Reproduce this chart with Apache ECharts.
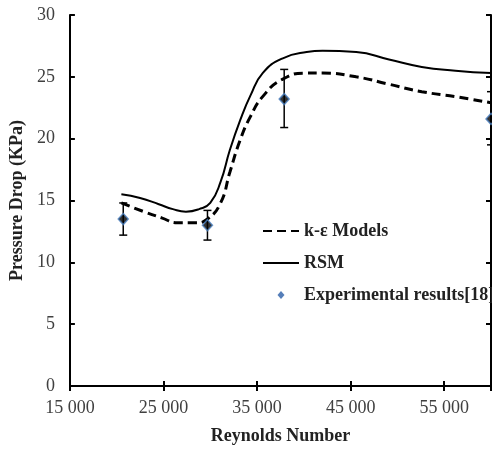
<!DOCTYPE html>
<html>
<head>
<meta charset="utf-8">
<script src="https://cdn.jsdelivr.net/npm/echarts@6/dist/echarts.min.js"></script>
<style>html,body{margin:0;padding:0;background:#fff}#c{width:492px;height:450px}</style>
</head>
<body>
<div id="c"></div>
<script>
// Reynolds number samples for model curves
const keX   = [20500, 22900, 24800, 26500, 28400, 29700, 31100, 32100, 33200, 34300, 35600, 37700, 40300, 42000, 45600, 49100, 52600, 56200, 60000];
const keY   = [14.8, 14.1, 13.6, 13.2, 13.2, 13.5, 14.8, 17.3, 19.9, 21.8, 23.4, 24.8, 25.3, 25.3, 25.0, 24.4, 23.8, 23.4, 22.9];
const rsmX  = [20500, 22500, 24500, 26000, 27400, 28800, 30000, 31100, 32100, 33200, 34300, 35600, 37750, 40300, 42000, 45600, 49100, 52600, 56200, 60000];
const rsmY  = [15.5, 15.2, 14.7, 14.3, 14.1, 14.3, 14.8, 16.5, 19.1, 21.5, 23.5, 25.3, 26.5, 27.0, 27.1, 27.0, 26.4, 25.8, 25.5, 25.3];
// experimental
const expX    = [20700, 29700, 37900, 60000];
const expY    = [13.5, 13.0, 23.2, 21.6];
const expLow  = [12.2, 11.8, 20.9, 19.5];
const expHigh = [14.8, 14.2, 25.6, 23.8];
const xTicks = {min: 15000, max: 60000, interval: 10000};
const yTicks = {min: 0, max: 30, interval: 5};

const zip = (a, b) => a.map((v, i) => [v, b[i]]);
const font = 'Liberation Serif';
const chart = echarts.init(document.getElementById('c'));
chart.setOption({
  animation: false,
  textStyle: {fontFamily: font},
  grid: {left: 68, right: 1, top: 15, bottom: 64},
  legend: {
    orient: 'vertical', left: 257, top: 217, itemGap: 14,
    itemWidth: 36, itemHeight: 14,
    textStyle: {fontFamily: font, fontWeight: 'bold', fontSize: 18, color: '#222'},
    data: [
      {name: 'k-ε Models', itemStyle: {opacity: 0}},
      {name: 'RSM', itemStyle: {opacity: 0}},
      {name: 'Experimental results[18]',
       icon: 'path://M0,0M36,14M18,3L21.5,7L18,11L14.5,7Z',
       itemStyle: {color: '#2a5ea8', borderWidth: 0}}
    ]
  },
  xAxis: [{
    type: 'value', min: xTicks.min, max: xTicks.max, interval: xTicks.interval,
    name: 'Reynolds Number', nameLocation: 'middle', nameGap: 41,
    nameTextStyle: {fontFamily: font, fontWeight: 'bold', fontSize: 18, color: '#222'},
    axisLine: {lineStyle: {color: '#000', width: 2}},
    axisTick: {inside: true, length: 5, lineStyle: {color: '#000', width: 2}},
    axisLabel: {color: '#404040', fontSize: 18, margin: 13, showMaxLabel: false,
      formatter: v => String(v).replace(/\B(?=(\d{3})+(?!\d))/g, ' ')},
    splitLine: {show: false}
  }, {
    type: 'value', position: 'top', min: xTicks.min, max: xTicks.max, interval: xTicks.interval,
    axisLine: {lineStyle: {color: '#000', width: 2}},
    axisTick: {inside: true, length: 5, lineStyle: {color: '#000', width: 2}},
    axisLabel: {show: false}, splitLine: {show: false}
  }],
  yAxis: [{
    type: 'value', min: yTicks.min, max: yTicks.max, interval: yTicks.interval,
    name: 'Pressure Drop (KPa)', nameLocation: 'middle', nameGap: 37,
    nameTextStyle: {fontFamily: font, fontWeight: 'bold', fontSize: 18, color: '#222'},
    axisLine: {lineStyle: {color: '#000', width: 2}},
    axisTick: {inside: true, length: 5, lineStyle: {color: '#000', width: 2}},
    axisLabel: {color: '#404040', fontSize: 18, margin: 15},
    splitLine: {show: false}
  }, {
    type: 'value', position: 'right', min: yTicks.min, max: yTicks.max, interval: yTicks.interval,
    axisLine: {lineStyle: {color: '#000', width: 2}},
    axisTick: {inside: true, length: 5, lineStyle: {color: '#000', width: 2}},
    axisLabel: {show: false}, splitLine: {show: false}
  }],
  series: [{
    name: 'k-ε Models', type: 'line', smooth: 0.5, symbol: 'none',
    lineStyle: {color: '#000', width: 3, type: [9, 5]}, itemStyle: {color: '#000'},
    data: zip(keX, keY)
  }, {
    name: 'RSM', type: 'line', smooth: 0.5, symbol: 'none',
    lineStyle: {color: '#000', width: 2}, itemStyle: {color: '#000'},
    data: zip(rsmX, rsmY)
  }, {
    name: 'errorbars', type: 'custom',
    data: expX.map((x, i) => [x, expLow[i], expHigh[i]]),
    renderItem: (params, api) => {
      const lo = api.coord([api.value(0), api.value(1)]);
      const hi = api.coord([api.value(0), api.value(2)]);
      const w = 4;
      const st = {stroke: '#000', lineWidth: 1.5};
      return {type: 'group', children: [
        {type: 'line', shape: {x1: lo[0], y1: lo[1], x2: hi[0], y2: hi[1]}, style: st},
        {type: 'line', shape: {x1: lo[0]-w, y1: lo[1], x2: lo[0]+w, y2: lo[1]}, style: st},
        {type: 'line', shape: {x1: hi[0]-w, y1: hi[1], x2: hi[0]+w, y2: hi[1]}, style: st}
      ]};
    },
    z: 3
  }, {
    name: 'Experimental results[18]', type: 'scatter', symbol: 'diamond', symbolSize: [10, 11],
    itemStyle: {color: '#000', borderColor: '#4a7fc0', borderWidth: 1.5},
    data: zip(expX, expY), z: 4
  }]
});
</script>
</body>
</html>
